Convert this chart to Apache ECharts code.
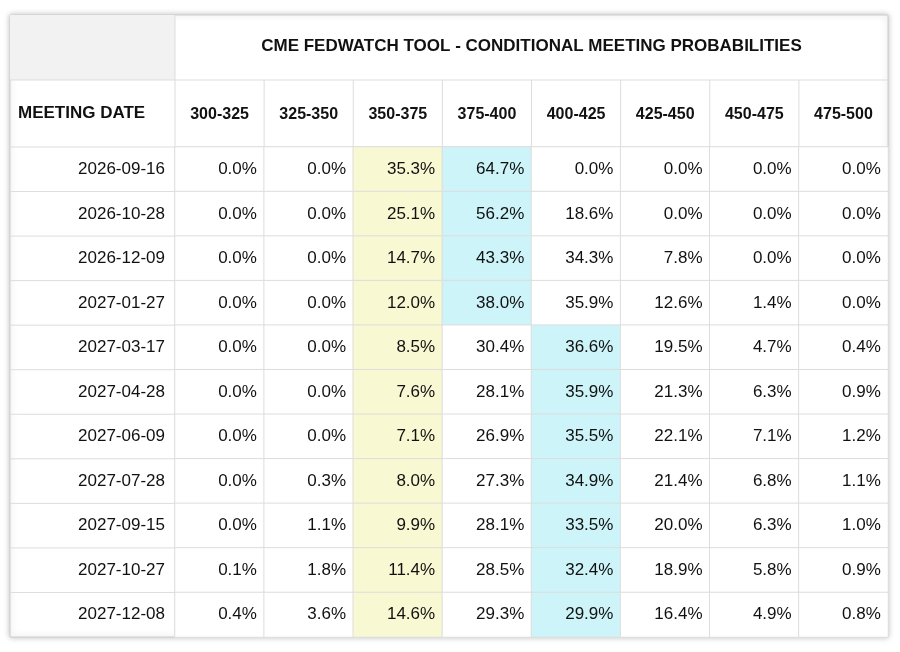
<!DOCTYPE html>
<html><head><meta charset="utf-8">
<script src="https://cdn.jsdelivr.net/npm/echarts@6/dist/echarts.min.js"></script>
<style>html,body{margin:0;background:#fff}#c{width:900px;height:652px}</style>
</head><body><div id="c"></div>
<script>
var title = 'CME FEDWATCH TOOL - CONDITIONAL MEETING PROBABILITIES';
var ranges = ['300-325','325-350','350-375','375-400','400-425','425-450','450-475','475-500'];
var dates = ['2026-09-16','2026-10-28','2026-12-09','2027-01-27','2027-03-17','2027-04-28','2027-06-09','2027-07-28','2027-09-15','2027-10-27','2027-12-08'];
var probs = [
  [0.0,0.0,35.3,64.7,0.0,0.0,0.0,0.0],
  [0.0,0.0,25.1,56.2,18.6,0.0,0.0,0.0],
  [0.0,0.0,14.7,43.3,34.3,7.8,0.0,0.0],
  [0.0,0.0,12.0,38.0,35.9,12.6,1.4,0.0],
  [0.0,0.0,8.5,30.4,36.6,19.5,4.7,0.4],
  [0.0,0.0,7.6,28.1,35.9,21.3,6.3,0.9],
  [0.0,0.0,7.1,26.9,35.5,22.1,7.1,1.2],
  [0.0,0.3,8.0,27.3,34.9,21.4,6.8,1.1],
  [0.0,1.1,9.9,28.1,33.5,20.0,6.3,1.0],
  [0.1,1.8,11.4,28.5,32.4,18.9,5.8,0.9],
  [0.4,3.6,14.6,29.3,29.9,16.4,4.9,0.8]
];
var currentCol = 2;

var data = [];
probs.forEach(function (row, r) {
  var mx = Math.max.apply(null, row);
  row.forEach(function (v, c) {
    var col = v === mx ? '#cdf4f9' : (c === currentCol ? '#f8f8d2' : '#ffffff');
    data.push({ value: [c, r, v], itemStyle: { color: col } });
  });
});

var L = 10, R = 888, T = 15, H1 = 80, H2 = 147, B = 637, C0 = 175;
var line = '#dddddd';
var chart = echarts.init(document.getElementById('c'));
var graphics = [
  { type: 'rect', shape: { x: L, y: T, width: R - L, height: B - T }, style: { fill: '#fff', stroke: '#cccccc', lineWidth: 1, shadowBlur: 6, shadowColor: 'rgba(0,0,0,0.25)' }, z: -10 },
  { type: 'rect', shape: { x: L, y: T, width: C0 - L, height: H1 - T }, style: { fill: '#f2f2f2' }, z: -9 },
  { type: 'text', x: (C0 + R) / 2, y: (T + H1) / 2 - 1, style: { text: title, fill: '#111', font: 'bold 17px "Liberation Sans", Arial, sans-serif', align: 'center', verticalAlign: 'middle' } },
  { type: 'text', x: 18, y: (H1 + H2) / 2, style: { text: 'MEETING DATE', fill: '#111', font: 'bold 17px "Liberation Sans", Arial, sans-serif', align: 'left', verticalAlign: 'middle' } },
  { type: 'line', shape: { x1: L, y1: H1, x2: R, y2: H1 }, style: { stroke: line } },
  { type: 'line', shape: { x1: L, y1: H2, x2: R, y2: H2 }, style: { stroke: line } },
  { type: 'line', shape: { x1: C0, y1: T, x2: C0, y2: B }, style: { stroke: line } }
];
var cw = (R - C0) / ranges.length;
for (var i = 1; i < ranges.length; i++) {
  graphics.push({ type: 'line', shape: { x1: C0 + cw * i, y1: H1, x2: C0 + cw * i, y2: H2 }, style: { stroke: line } });
}
var rh = (B - H2) / dates.length;
for (var j = 1; j < dates.length; j++) {
  graphics.push({ type: 'line', shape: { x1: L, y1: H2 + rh * j, x2: C0, y2: H2 + rh * j }, style: { stroke: line } });
}

chart.setOption({
  animation: false,
  textStyle: { fontFamily: '"Liberation Sans", Arial, sans-serif' },
  grid: { left: C0, right: 900 - R, top: H2, bottom: 652 - B },
  xAxis: {
    type: 'category', data: ranges, position: 'top',
    axisLine: { show: false }, axisTick: { show: false },
    axisLabel: { margin: (H2 - H1) / 2 - 9, color: '#111', fontWeight: 'bold', fontSize: 16 },
    splitLine: { show: true, lineStyle: { color: line } }
  },
  yAxis: {
    type: 'category', data: dates, inverse: true,
    axisLine: { show: false }, axisTick: { show: false },
    axisLabel: { margin: 10, color: '#111', fontSize: 17 },
    splitLine: { show: true, lineStyle: { color: line } }
  },
  series: [{
    type: 'heatmap', data: data,
    itemStyle: { borderColor: line, borderWidth: 1 },
    label: {
      show: true, position: 'insideRight', distance: 8, color: '#111', fontSize: 17,
      formatter: function (p) { return p.value[2].toFixed(1) + '%'; }
    }
  }],
  graphic: graphics
});
</script></body></html>
